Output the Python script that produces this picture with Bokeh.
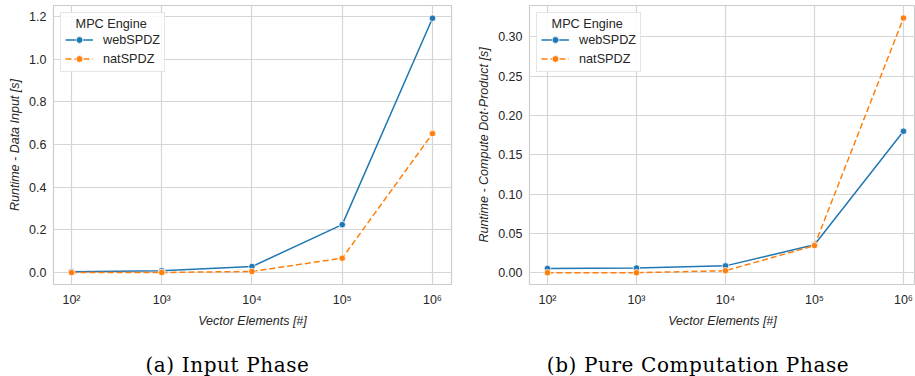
from bokeh.plotting import figure
from bokeh.models import Legend, FixedTicker, NumeralTickFormatter, Range1d, Div
from bokeh.layouts import row, column
from bokeh.embed import file_html
from bokeh.resources import INLINE

# ---- data ----
vector_elements = [100, 1000, 10000, 100000, 1000000]
x_tick_labels = ["10²", "10³", "10⁴", "10⁵", "10⁶"]
engines = ["webSPDZ", "natSPDZ"]

input_webspdz = [0.004, 0.009, 0.029, 0.225, 1.191]
input_natspdz = [0.0005, 0.001, 0.006, 0.068, 0.651]

compute_webspdz = [0.0054, 0.006, 0.0087, 0.0355, 0.180]
compute_natspdz = [0.0, 0.0, 0.0025, 0.0345, 0.324]

left_y_ticks = [0.0, 0.2, 0.4, 0.6, 0.8, 1.0, 1.2]
right_y_ticks = [0.0, 0.05, 0.10, 0.15, 0.20, 0.25, 0.30]

captions = ["(a) Input Phase", "(b) Pure Computation Phase"]

BLUE = "#1f77b4"
ORANGE = "#ff7f0e"
TXT = "#262626"
GRID = "#d5d5d5"
SANS = "Liberation Sans"


def make_plot(width, border_left, border_right, x_range, y_range, y_ticks, y_fmt,
              y_label, web, nat):
    p = figure(width=width, height=330, x_axis_type="log",
               x_range=Range1d(*x_range), y_range=Range1d(*y_range),
               output_backend="svg", toolbar_location=None,
               min_border_left=border_left, min_border_right=border_right,
               min_border_top=5, min_border_bottom=41)
    p.background_fill_color = "white"
    p.border_fill_color = "white"
    p.outline_line_color = "#cccccc"
    p.outline_line_width = 1.2

    p.xaxis.ticker = FixedTicker(ticks=vector_elements)
    p.xaxis.major_label_overrides = {v: l for v, l in zip(vector_elements, x_tick_labels)}
    p.yaxis.ticker = FixedTicker(ticks=y_ticks)
    p.yaxis.formatter = NumeralTickFormatter(format=y_fmt)

    for ax in (p.xaxis[0], p.yaxis[0]):
        ax.axis_line_color = None
        ax.major_tick_line_color = None
        ax.minor_tick_line_color = None
        ax.major_tick_out = 0
        ax.major_tick_in = 0
        ax.minor_tick_out = 0
        ax.minor_tick_in = 0
        ax.major_label_text_font = SANS
        ax.major_label_text_font_size = "12.5px"
        ax.major_label_text_color = TXT
        ax.axis_label_text_font = SANS
        ax.axis_label_text_font_size = "12.5px"
        ax.axis_label_text_font_style = "italic"
        ax.axis_label_text_color = TXT
        ax.major_label_standoff = 7
        ax.axis_label_standoff = 4
    p.xaxis.major_label_standoff = 8

    p.xaxis.axis_label = "Vector Elements [#]"
    p.yaxis.axis_label = y_label

    p.xgrid.grid_line_color = GRID
    p.ygrid.grid_line_color = GRID
    p.xgrid.grid_line_width = 1.2
    p.ygrid.grid_line_width = 1.2

    l1 = p.line(vector_elements, web, line_color=BLUE, line_width=1.5)
    s1 = p.scatter(vector_elements, web, size=6.5, fill_color=BLUE,
                   line_color="white", line_width=0.8)
    l2 = p.line(vector_elements, nat, line_color=ORANGE, line_width=1.5,
                line_dash="6 3")
    s2 = p.scatter(vector_elements, nat, size=6.5, fill_color=ORANGE,
                   line_color="white", line_width=0.8)

    legend = Legend(items=[(engines[0], [l1, s1]), (engines[1], [l2, s2])],
                    location="top_left", title="\u00a0\u00a0\u00a0MPC Engine")
    legend.margin = 7
    legend.padding = 4
    legend.spacing = 2
    legend.title_standoff = 0
    legend.title_text_font = SANS
    legend.title_text_font_size = "12.7px"
    legend.title_text_font_style = "normal"
    legend.title_text_color = TXT
    legend.label_text_font = SANS
    legend.label_text_font_size = "12.7px"
    legend.label_text_color = TXT
    legend.label_standoff = 10
    legend.label_height = 17
    legend.glyph_height = 17
    legend.glyph_width = 28
    legend.border_line_color = "#cccccc"
    legend.border_line_width = 1
    legend.background_fill_color = "white"
    legend.background_fill_alpha = 0.85
    p.add_layout(legend)
    return p


p1 = make_plot(455, 53, 4, (63.2, 1623900), (-0.0552, 1.2506),
               left_y_ticks, "0.0", "Runtime - Data Input [s]",
               input_webspdz, input_natspdz)
p2 = make_plot(460, 74, 0, (62.8, 1364600), (-0.015, 0.34),
               right_y_ticks, "0.00", "Runtime - Compute Dot\u00b7Product [s]",
               compute_webspdz, compute_natspdz)

cap_style = ("font-family:'DejaVu Serif';font-size:20px;letter-spacing:0.6px;"
             "color:#000;text-align:center;padding-top:21px;")
d1 = Div(text=f'<div style="{cap_style}width:455px;">{captions[0]}</div>',
         width=455, height=46, margin=0)
d2 = Div(text=f'<div style="{cap_style}width:460px;position:relative;left:13px;">'
              f'{captions[1]}</div>',
         width=460, height=46, margin=0)

layout = row(column(p1, d1), column(p2, d2))

with open("out.html", "w") as f:
    f.write(file_html(layout, INLINE))
